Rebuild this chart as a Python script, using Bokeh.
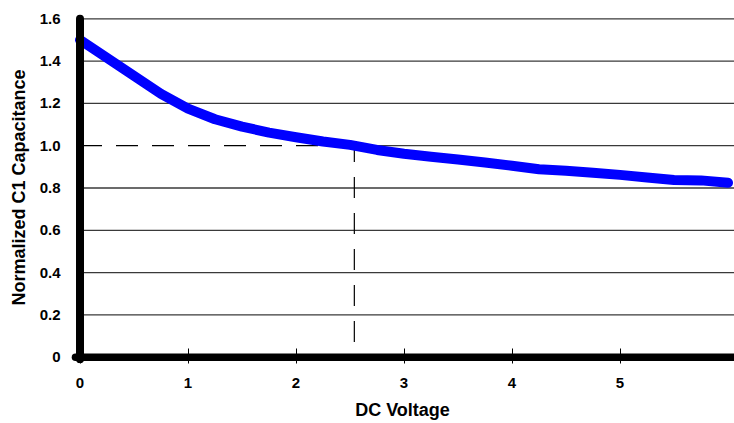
from bokeh.plotting import figure
from bokeh.models import Range1d, FixedTicker
from bokeh.embed import file_html
from bokeh.resources import INLINE

# ---- data ----
voltage = [0, 0.25, 0.5, 0.75, 1.0, 1.25, 1.5, 1.75, 2.0, 2.25, 2.5, 2.75, 3.0,
           3.25, 3.5, 3.75, 4.0, 4.25, 4.5, 4.75, 5.0, 5.25, 5.5, 5.75, 6.0]
capacitance = [1.50, 1.415, 1.33, 1.245, 1.175, 1.125, 1.09, 1.062, 1.04, 1.02, 1.004,
               0.98, 0.962, 0.948, 0.935, 0.921, 0.905, 0.889, 0.882, 0.872, 0.862,
               0.850, 0.838, 0.836, 0.825]
x_ticks = [0, 1, 2, 3, 4, 5]
y_ticks = [0, 0.2, 0.4, 0.6, 0.8, 1.0, 1.2, 1.4, 1.6]
y_tick_labels = ["0", "0.2", "0.4", "0.6", "0.8", "1.0", "1.2", "1.4", "1.6"]
ref_voltage = 2.54
ref_capacitance = 1.0
dashed_bottom = 0.072

X_START, X_END = -0.088, 6.06
Y_START, Y_END = -0.0298, 1.6345
FONT = "Liberation Sans"

p = figure(width=734, height=423, output_backend="svg", toolbar_location=None,
           x_range=Range1d(X_START, X_END), y_range=Range1d(Y_START, Y_END),
           min_border_left=70, min_border_right=0, min_border_top=11, min_border_bottom=60)
p.outline_line_color = None
p.xgrid.visible = False
p.ygrid.visible = False

# gridlines (solid), all except the reference level
grid_levels = [v for v in y_ticks if v not in (0, ref_capacitance)]
p.segment(x0=[0] * len(grid_levels), x1=[X_END] * len(grid_levels),
          y0=grid_levels, y1=grid_levels, line_color="#3a3a3a", line_width=1.3)
# reference level: solid right of the marker, dashed left
p.segment(x0=[ref_voltage], x1=[X_END], y0=[ref_capacitance], y1=[ref_capacitance],
          line_color="#3a3a3a", line_width=1.3)
p.line(x=[0, ref_voltage], y=[ref_capacitance, ref_capacitance], line_color="black",
       line_width=1.2, line_dash="22 14")
p.line(x=[ref_voltage, ref_voltage], y=[dashed_bottom, ref_capacitance], line_color="black",
       line_width=1.2, line_dash="21 15")

# curve
p.line(x=voltage, y=capacitance, line_color="#0000ff", line_width=10,
       line_cap="round", line_join="round")

# heavy axis lines
p.line(x=[-0.042, X_END], y=[0, 0], line_color="black", line_width=7.5, line_cap="round")
p.line(x=[0, 0], y=[-0.01, y_ticks[-1]], line_color="black", line_width=8, line_cap="round")

# x axis
xa = p.xaxis[0]
xa.ticker = FixedTicker(ticks=x_ticks)
xa.axis_line_color = None
xa.major_tick_in = 15
xa.major_tick_out = 0
xa.major_tick_line_color = "black"
xa.major_tick_line_width = 1
xa.minor_tick_line_color = None
xa.major_label_standoff = 14
xa.major_label_text_font = FONT
xa.major_label_text_font_style = "bold"
xa.major_label_text_font_size = "15px"
xa.major_label_text_color = "black"
xa.axis_label = "DC Voltage"
xa.axis_label_text_font = FONT
xa.axis_label_text_font_style = "bold"
xa.axis_label_text_font_size = "18px"
xa.axis_label_text_color = "black"
xa.axis_label_standoff = 9

# y axis
ya = p.yaxis[0]
ya.ticker = FixedTicker(ticks=y_ticks)
ya.major_label_overrides = {t: l for t, l in zip(y_ticks, y_tick_labels)}
ya.axis_line_color = None
ya.major_tick_line_color = None
ya.minor_tick_line_color = None
ya.major_label_standoff = 4
ya.major_label_text_font = FONT
ya.major_label_text_font_style = "bold"
ya.major_label_text_font_size = "15px"
ya.major_label_text_color = "black"
ya.axis_label = "Normalized C1 Capacitance"
ya.axis_label_text_font = FONT
ya.axis_label_text_font_style = "bold"
ya.axis_label_text_font_size = "18px"
ya.axis_label_text_color = "black"
ya.axis_label_standoff = 8

open("out.html", "w").write(file_html(p, INLINE))
